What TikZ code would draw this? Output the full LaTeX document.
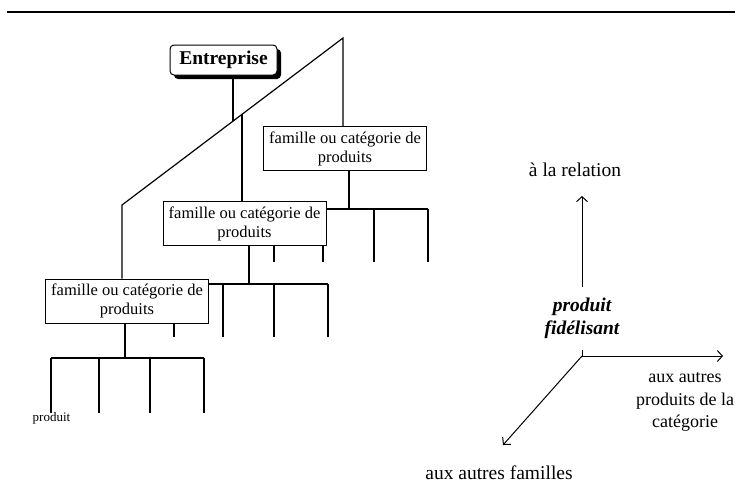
\documentclass[tikz,border=0pt]{standalone}
\usepackage{fontspec}
\setmainfont{Liberation Serif}
\usetikzlibrary{arrows.meta,shadows,backgrounds}
\begin{document}
\begin{tikzpicture}[x=1pt,y=-1pt,
  ln/.style={line width=1.2pt},
  famille/.style={draw, fill=white, line width=1pt, align=center,
    inner xsep=2pt, inner ysep=2pt, minimum width=163pt, minimum height=44pt,
    font=\fontsize{16.5}{19}\selectfont},
  bigtxt/.style={font=\fontsize{19.5}{22.5}\selectfont, align=center, inner sep=0pt},
  arr/.style={line width=1pt, -{Straight Barb[length=5pt,width=11pt,line width=1pt]}}
]
\useasboundingbox (0,0) rectangle (735,499);
\coordinate (tl) at (7,12);
\coordinate (tr) at (735,12);
\draw[line width=1.5pt] (tl) -- (tr);

% boxes
\node[draw, fill=white, line width=1pt, rounded corners=4pt, minimum width=107pt, minimum height=30pt,
  inner sep=1pt, font=\fontsize{19.5}{22}\selectfont\bfseries,
  drop shadow={shadow xshift=4pt, shadow yshift=-4pt, fill=black, opacity=1}]
  (ent) at (223.5,60) {Entreprise};
\node[famille] (fr) at (345,148.5) {famille ou catégorie de\\produits};
\node[famille] (fm) at (244.5,223.5) {famille ou catégorie de\\produits};
\node[famille] (fl) at (127,301) {famille ou catégorie de\\produits};
\node[font=\fontsize{13}{15}\selectfont, inner sep=0pt] (prod) at (51.5,418) {produit};

% coordinates of the tree
\coordinate (apex) at (343,38);
\coordinate (bend) at (122,205);
\coordinate (de) at (233,121);
\coordinate (dm) at (242,114.3);

\coordinate (br1) at (274,209);
\coordinate (br2) at (323,209);
\coordinate (br3) at (374,209);
\coordinate (br4) at (428,209);
\coordinate (bm1) at (174,284);
\coordinate (bm2) at (223,284);
\coordinate (bm3) at (274,284);
\coordinate (bm4) at (328,284);
\coordinate (bl1) at (51,358);
\coordinate (bl2) at (99,358);
\coordinate (bl3) at (150,358);
\coordinate (bl4) at (204,358);

\begin{pgfonlayer}{background}
\draw[ln] (ent.south -| de) -- (de);
\draw[ln] (fl.north -| bend) -- (bend) -- (apex) -- (fr.north -| apex);
\draw[ln] (dm) -- (fm.north -| dm);
% right family
\draw[ln] (349,170) -- (349,209);
\draw[ln] (br1) -- (br4);
\foreach \c in {br1,br2,br3,br4} \draw[ln] (\c) -- ++(0,53);
% middle family
\draw[ln] (249,246) -- (249,284);
\draw[ln] (bm1) -- (bm4);
\foreach \c in {bm1,bm2,bm3,bm4} \draw[ln] (\c) -- ++(0,53);
% left family
\draw[ln] (125,323) -- (125,358);
\draw[ln] (bl1) -- (bl4);
\foreach \c in {bl1,bl2,bl3,bl4} \draw[ln] (\c) -- ++(0,55);
\end{pgfonlayer}

% right diagram
\node[bigtxt] (rel) at (575,170) {à la relation};
\node[bigtxt, font=\fontsize{19.5}{23}\selectfont\bfseries\itshape] (pf) at (582,318) {produit\\fidélisant};
\node[bigtxt, font=\fontsize{18}{22.5}\selectfont] (cat) at (685,402) {aux autres\\produits de la\\catégorie};
\node[bigtxt] (fam) at (499,473) {aux autres familles};

\coordinate (o) at (582,356);
\coordinate (otick) at (582,350);
\coordinate (upstart) at (582,287);
\coordinate (uptip) at (582,196);
\coordinate (rtip) at (723,356);
\coordinate (dltip) at (503,445);
\draw[line width=1pt] (otick) -- (o);
\draw[arr] (upstart) -- (uptip);
\draw[arr] (o) -- (rtip);
\draw[arr] (o) -- (dltip);
\end{tikzpicture}
\end{document}
